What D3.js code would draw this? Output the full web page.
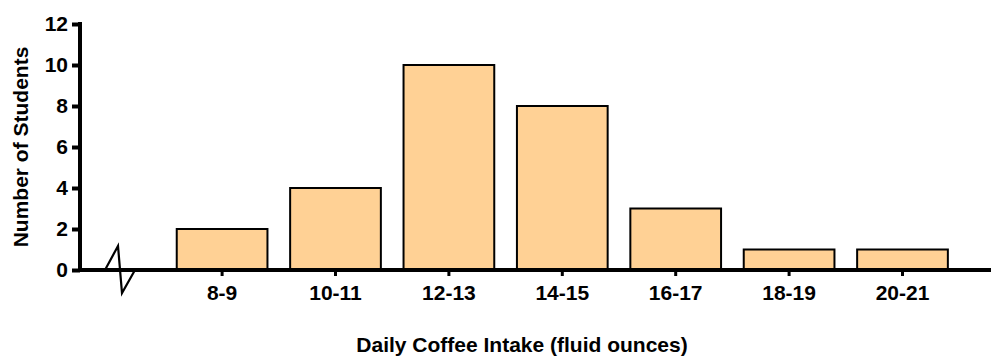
<!DOCTYPE html>
<html><head><meta charset="utf-8">
<script src="https://cdn.jsdelivr.net/npm/d3@7"></script>
<style>body{margin:0;background:#fff}svg{display:block}</style>
</head><body>
<script>
const categories = ["8-9","10-11","12-13","14-15","16-17","18-19","20-21"];
const counts = [2,4,10,8,3,1,1];
const yTicks = [0,2,4,6,8,10,12];
const xTitle = "Daily Coffee Intake (fluid ounces)";
const yTitle = "Number of Students";

const W = 1000, H = 356;
const svg = d3.select("body").append("svg").attr("width", W).attr("height", H);
const font = "Arial, 'Liberation Sans', sans-serif";

const x = d3.scaleBand().domain(categories).range([165.4, 959.2]).paddingInner(0.2).paddingOuter(0.1);
const y = d3.scaleLinear().domain([0, 12]).range([270, 24]);

// bars
svg.append("g").selectAll("rect").data(counts).join("rect")
  .attr("x", (d,i) => x(categories[i]))
  .attr("y", d => y(d))
  .attr("width", x.bandwidth())
  .attr("height", d => y(0) - y(d))
  .attr("fill", "#FFD195")
  .attr("stroke", "#000")
  .attr("stroke-width", 2);

// y axis
const yAxis = svg.append("g").attr("transform", "translate(80,0)")
  .call(d3.axisLeft(y).tickValues(yTicks).tickSize(8).tickPadding(4).tickFormat(d3.format("d")));
yAxis.select(".domain").remove();
yAxis.append("line").attr("x1",0).attr("x2",0).attr("y1",y(12)-2).attr("y2",y(0)+2)
  .attr("stroke","#000").attr("stroke-width",4);
yAxis.selectAll(".tick line").attr("stroke","#000").attr("stroke-width",4).attr("x2",-8);
yAxis.selectAll(".tick text").attr("font-family",font).attr("font-size",21).attr("font-weight","bold").attr("fill","#000").attr("x",-12);

// x axis
const xAxis = svg.append("g").attr("transform", "translate(0,270)")
  .call(d3.axisBottom(x).tickSize(6).tickPadding(9));
xAxis.select(".domain").remove();
xAxis.append("line").attr("x1",78).attr("x2",991).attr("y1",0).attr("y2",0)
  .attr("stroke","#000").attr("stroke-width",4);
xAxis.selectAll(".tick line").attr("stroke","#000").attr("stroke-width",3).attr("y1",2);
xAxis.selectAll(".tick text").attr("font-family",font).attr("font-size",21).attr("font-weight","bold").attr("fill","#000");

// axis break symbol
svg.append("path")
  .attr("d", d3.line()([[105,270],[118,246],[122,293],[135,270]]))
  .attr("fill","none").attr("stroke","#000").attr("stroke-width",2.2);

// titles
svg.append("text").attr("x", 522).attr("y", 352).attr("text-anchor","middle")
  .attr("font-family",font).attr("font-size",21).attr("font-weight","bold").text(xTitle);
svg.append("text").attr("transform","translate(28,147) rotate(-90)").attr("text-anchor","middle")
  .attr("font-family",font).attr("font-size",21).attr("font-weight","bold").text(yTitle);
</script>
</body></html>
